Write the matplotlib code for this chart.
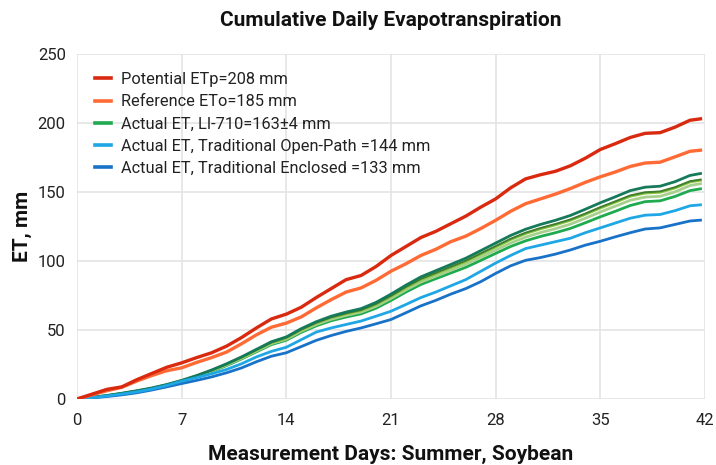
import matplotlib
matplotlib.use("Agg")
import matplotlib.pyplot as plt
from matplotlib.lines import Line2D

days = [0, 1, 2, 3, 4, 5, 6, 7, 8, 9, 10, 11, 12, 13, 14, 15, 16, 17, 18, 19, 20,
        21, 22, 23, 24, 25, 26, 27, 28, 29, 30, 31, 32, 33, 34, 35, 36, 37, 38, 39,
        40, 41, 41.7]

potential = [0, 3.5, 7, 8.8, 14, 18.5, 23, 26.2, 30, 33.5, 38.3, 44.5, 51.5, 58, 61.5,
             66.5, 73.5, 80, 86.5, 89.5, 96, 104, 110.5, 117, 121.5, 127, 132.5, 139,
             145, 153, 159.5, 162.5, 165, 169, 174.5, 180.8, 185, 189.5, 192.5, 193,
             197, 202, 203]

reference = [0, 3, 6, 8.5, 13, 17, 20.5, 22.6, 26.5, 30, 34, 40, 46.5, 52, 55, 59.5,
             66, 72, 77.5, 80.5, 86, 92.6, 98, 104, 108.5, 114, 118, 123.5, 129.5, 136,
             141.5, 145, 148.5, 152.5, 157, 161, 164.5, 168.5, 171, 171.6, 175.5,
             179.5, 180.3]

li710_a = [0, 1.2, 2.6, 4.2, 6, 8, 10.5, 13.5, 17, 21, 25.5, 30.5, 36, 41.5, 45, 51,
           56, 60, 63, 65.5, 70, 76, 82.5, 88.5, 93, 97.5, 102, 107.5, 113, 118.5, 123,
           126.5, 129.5, 133, 137.5, 142.2, 146.5, 151, 153.5, 154.2, 157.5, 162, 163.4]

li710_b = [0, 1.2, 2.5, 4.1, 5.9, 7.9, 10.4, 13.4, 16.9, 20.8, 25.3, 30.2, 35.6, 41,
           44.5, 50.4, 55.3, 59.2, 62.1, 64.5, 68.9, 74.8, 81.2, 87, 91.4, 95.8, 100.2,
           105.5, 110.8, 116.1, 120.5, 123.9, 126.8, 130.1, 134.4, 139, 143.2, 147.5,
           149.8, 150.4, 153.5, 157.8, 159]

li710_c = [0, 1.1, 2.4, 4, 5.8, 7.8, 10.3, 13.3, 16.8, 20.7, 25.2, 30, 35.4, 40.8,
           44.2, 50.1, 55, 58.9, 61.8, 64.2, 68.5, 74.3, 80.7, 86.4, 90.8, 95.2, 99.6,
           104.9, 110.2, 115.5, 119.9, 123.3, 126.2, 129.5, 133.8, 138.4, 142.6, 146.9,
           149.2, 149.8, 152.9, 157.3, 158.5]

li710_d = [0, 1.1, 2.4, 3.9, 5.7, 7.6, 10.1, 13, 16.5, 20.3, 24.7, 29.5, 34.8, 40.1,
           43.4, 49.2, 54, 57.8, 60.6, 63, 67.2, 72.9, 79.1, 84.8, 89, 93.3, 97.6, 102.7,
           107.9, 113, 117.3, 120.6, 123.4, 126.7, 131, 135.5, 139.7, 144, 146.3, 146.9,
           150.1, 154.7, 156]

li710_e = [0, 1.1, 2.3, 3.8, 5.5, 7.4, 9.8, 12.7, 16.1, 19.9, 24.2, 29, 34.2, 39.4,
           42.6, 48.3, 53, 56.7, 59.4, 61.7, 65.8, 71.4, 77.5, 83, 87.2, 91.3, 95.4,
           100.4, 105.5, 110.5, 114.6, 117.8, 120.5, 123.6, 127.7, 132, 136, 140.2, 143,
           143.6, 146.8, 151, 152.3]

open_path = [0, 1, 2.2, 3.6, 5.2, 7.2, 9.8, 12.9, 15.5, 18.3, 21.4, 25.5, 30.5, 34.5,
             37.5, 43, 48.5, 51.5, 54, 56.5, 60, 63.6, 68.5, 73.5, 77.5, 82, 86.5, 92.5,
             98.5, 104, 109, 111.5, 114, 116.5, 120.5, 124, 127.5, 131, 133.2, 133.7,
             136.5, 140, 140.7]

enclosed = [0, 0.8, 1.8, 3, 4.5, 6.5, 8.8, 11.2, 13.5, 16, 19, 22.5, 27, 31, 33.5, 38,
            42.5, 46, 49, 51.5, 54.5, 57.6, 62.5, 67.5, 71.5, 76, 80, 85, 91, 96.5, 100.5,
            102.5, 105, 108, 111.5, 114.3, 117.5, 120.5, 123.2, 124, 126.5, 129, 129.6]

labels = ["Potential ETp=208 mm", "Reference ETo=185 mm", "Actual ET, LI-710=163\u00b14 mm",
          "Actual ET, Traditional Open-Path =144 mm", "Actual ET, Traditional Enclosed =133 mm"]

x_ticks = [0, 7, 14, 21, 28, 35, 42]
y_ticks = [0, 50, 100, 150, 200, 250]

plt.rcParams['font.family'] = ['Roboto', 'DejaVu Sans']

fig = plt.figure(figsize=(7.16, 4.65), dpi=100)
ax = fig.add_axes([0.1075, 0.1419, 0.8771, 0.742])

lw = 2.0
ax.plot(days, li710_e, color='#1faa4f', lw=lw, zorder=3)
ax.plot(days, li710_d, color='#a8d08d', lw=lw, zorder=3)
ax.plot(days, li710_c, color='#8cc63f', lw=lw, zorder=3)
ax.plot(days, li710_b, color='#3f7f2f', lw=1.4, zorder=3)
ax.plot(days, li710_a, color='#15795a', lw=lw, zorder=3)
ax.plot(days, enclosed, color='#1872c8', lw=lw, zorder=3)
ax.plot(days, open_path, color='#1ea7e4', lw=lw, zorder=3)
ax.plot(days, reference, color='#ff6a35', lw=2.4, zorder=4)
ax.plot(days, potential, color='#d9290f', lw=2.4, zorder=5)

handles = [Line2D([], [], color=c, lw=2.6) for c in
           ['#d9290f', '#ff6a35', '#1faa4f', '#1ea7e4', '#1872c8']]
ax.legend(handles, labels, loc='upper left', bbox_to_anchor=(0.005, 0.99),
          frameon=False, fontsize=11.8, handlelength=1.0, handletextpad=0.6,
          labelspacing=0.44, labelcolor='#222222')

ax.set_xlim(0, 42)
ax.set_ylim(0, 250)
ax.set_xticks(x_ticks)
ax.set_yticks(y_ticks)
ax.grid(True, color='#e2e2e2', lw=1.1)
ax.set_axisbelow(True)
for s in ax.spines.values():
    s.set_visible(False)
ax.tick_params(length=0, labelsize=12, colors='#222222')
ax.tick_params(axis='x', pad=10)
ax.tick_params(axis='y', pad=8)

ax.set_title("Cumulative Daily Evapotranspiration", fontsize=15, fontweight='bold',
             pad=20, color='#111111')
ax.set_xlabel("Measurement Days: Summer, Soybean", fontsize=15, fontweight='bold',
              labelpad=12, color='#111111')
ax.set_ylabel("ET, mm", fontsize=15, fontweight='bold', labelpad=4, color='#111111')

fig.savefig("out.png", dpi=100)
